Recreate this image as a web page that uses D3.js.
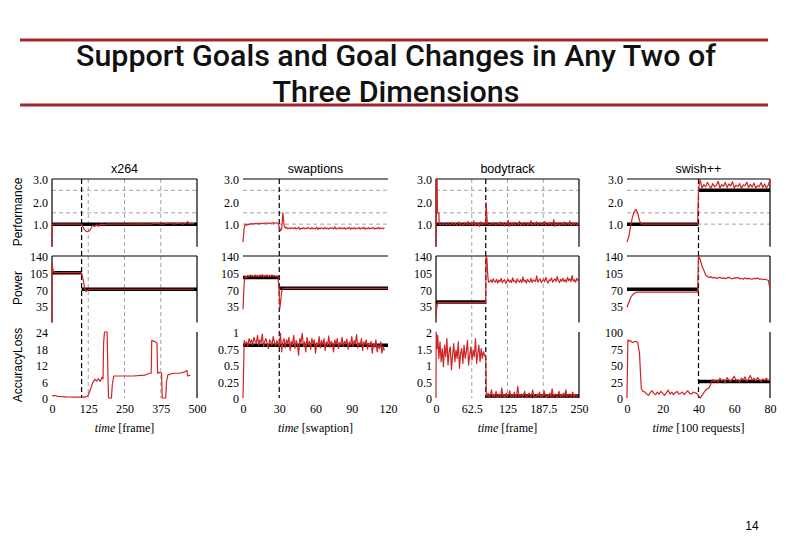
<!DOCTYPE html>
<html><head><meta charset="utf-8">
<script src="https://cdn.jsdelivr.net/npm/d3@7"></script>
<style>body{margin:0;background:#fff} svg{display:block}</style>
</head><body><svg id="c" width="792" height="540"></svg>
<script>
// ---------- text ----------
const titleLines = ["Support Goals and Goal Changes in Any Two of", "Three Dimensions"];
const pageNumber = "14";
const columnNames = ["x264", "swaptions", "bodytrack", "swish++"];
const rowNames = ["Performance", "Power", "AccuracyLoss"];
const xUnits = ["frame", "swaption", "frame", "100 requests"];

// ---------- ticks ----------
const xDomains = [[0, 500], [0, 120], [0, 250], [0, 80]];
const xTicks = [[0, 125, 250, 375, 500], [0, 30, 60, 90, 120], [0, 62.5, 125, 187.5, 250], [0, 20, 40, 60, 80]];
const xGridTicks = [[125, 250, 375], [], [62.5, 125, 187.5], []];
const changeTimes = [102, 30, 87, 40];
const perfTicks = [1, 2, 3];
const perfGrid = [1, 1.5, 2.5];
const powerTicks = [35, 70, 105, 140];
const accTicks = [[0, 6, 12, 18, 24], [0, 0.25, 0.5, 0.75, 1], [0, 0.5, 1, 1.5, 2], [0, 25, 50, 75, 100]];

// helper: pair evenly spaced sample times with typed values
function seq(t0, step, vals) { return vals.map((v, i) => [t0 + i * step, v]); }

// ---------- x264 ----------
const x264Perf = [[0,0],[0.5,1.0],[100,1.0],[104,0.95],[108,0.85],[112,0.75],[118,0.68],[124,0.67],[130,0.72],[136,0.85],[140,0.95],[145,0.9],[150,0.92],[155,0.98],[160,0.9],[164,0.97],[170,1.0],[180,0.98],[190,1.0],[220,1.0],[260,1.0],[300,1.01],[340,1.0],[360,1.03],[380,1.0],[410,1.05],[420,1.0],[440,1.04],[450,1.0],[465,1.05],[468,1.12],[472,1.02],[490,1.02]];
const x264Power = [[0,0],[0.5,125],[3,112],[6,106],[10,105],[100,105],[103,102],[108,88],[113,72],[117,65],[121,68],[130,70],[200,70],[300,70],[400,70],[490,70]];
const x264Acc = [[0,0.8],[10,0.9],[20,0.6],[50,0.4],[80,0.3],[110,0.3],[120,0.5],[125,1],[132,3],[140,5.5],[148,6.8],[155,6.2],[160,7],[166,6],[172,7.5],[176,7],[178,20],[181,24],[190,24],[192,12],[195,0],[205,0],[208,5],[213,8],[240,8],[280,8],[320,8.3],[335,9],[342,9],[344,21],[352,20.6],[362,20],[364,9],[372,9.3],[378,9],[380,0],[392,0],[395,6],[400,8.5],[420,9],[440,9],[458,9.5],[465,10],[468,8],[477,8.3]];
const x264PerfGoal = [[0,1],[500,1]];
const x264PowerGoal = [[0,105],[102,105],null,[102,70],[500,70]];
const x264AccGoal = [];

// ---------- swaptions ----------
const swaptionsPerf = [[0,0.2],[1,0.85],[2,1.0],...seq(3,1,[0.95,1.0,0.98,1.02,1.0,1.03,1.0,1.02,1.04,1.01,1.03,1.02,1.05,1.02,1.04,1.03,1.06,1.03,1.05,1.02,1.06,1.04,1.07,1.03,1.05,1.06,1.03]),[30,0.9],[31,0.7],[32,0.8],[33,1.5],[34,0.95],[35,0.82],...seq(36,1,[0.86,0.8,0.83,0.79,0.84,0.81,0.8,0.85,0.78,0.82,0.87,0.76,0.82,0.8,0.84,0.79,0.83,0.8,0.85,0.81,0.78,0.84,0.8,0.82,0.79,0.86,0.76,0.83,0.8,0.84,0.81,0.79,0.85,0.8,0.82,0.78,0.84,0.81,0.83,0.79,0.88,0.78,0.82,0.8,0.85,0.79,0.83,0.8,0.84,0.78,0.82,0.81,0.86,0.77,0.83,0.8,0.84,0.79,0.82,0.8,0.85,0.78,0.83,0.8,0.87,0.77,0.82,0.8,0.84,0.79,0.83,0.81,0.85,0.78,0.82,0.8,0.86,0.79,0.83,0.81,0.8,0.84])];
const swaptionsPower = [[0,28],[1,85],...seq(2,1,[97,95,99,96,100,97,99,96,100,97,99,96,100,97,101,96,99,97,100,96,99,97,100,97,99,96,98,97]),[30,60],[30.5,30],[31,40],[32,65],[33,71],[34,72],[120,72]];
const swaptionsAcc = seq(0,1,[0,0.87,0.82,0.85,0.78,0.9,0.84,0.88,0.8,0.92,0.86,0.83,0.95,0.8,0.88,0.84,0.97,0.78,0.86,0.9,0.82,0.75,0.88,0.85,0.8,0.93,0.84,0.79,0.87,0.82,0.78,0.98,0.7,0.85,0.9,0.76,0.88,0.83,0.92,0.72,0.86,0.8,0.95,0.75,0.87,0.82,0.65,0.9,0.84,0.98,0.78,0.85,0.7,0.92,0.8,0.86,0.74,0.9,0.82,0.88,0.68,0.84,0.79,0.93,0.76,0.87,0.81,0.9,0.72,0.85,0.8,0.94,0.77,0.86,0.83,0.7,0.88,0.81,0.9,0.75,0.84,0.8,0.92,0.78,0.86,0.83,0.89,0.74,0.85,0.8,0.93,0.78,0.87,0.82,0.96,0.76,0.84,0.8,0.9,0.72,0.85,0.81,0.88,0.74,0.83,0.79,0.86,0.68,0.82,0.77,0.88,0.7,0.8,0.75,0.85,0.68,0.78,0.72]);
const swaptionsPerfGoal = [];
const swaptionsPowerGoal = [[0,95],[30,95],null,[30,72],[120,72]];
const swaptionsAccGoal = [[0,0.8],[120,0.8]];

// ---------- bodytrack ----------
const bodytrackPerf = [[0,0],[0.5,3.0],[2,3.0],[2.5,1.5],[5,1.5],[5.5,1.0],...seq(6,2,[1.0,0.98,1.02,0.97,1.0,1.05,0.96,1.0,1.02,0.95,1.0,1.08,0.97,1.0,1.03,0.96,1.0,1.1,0.95,1.02,1.0,0.92,1.05,1.0,0.97,1.12,0.94,1.0,1.03,0.96,1.15,0.93,1.02,0.98,1.05,0.9,1.1,0.97,1.0,1.04,0.98]),[87,1.0],[87.5,1.95],[89,1.3],[90,1.0],...seq(92,2,[1.0,0.96,1.04,0.98,1.0,1.06,0.94,1.0,1.03,0.97,1.1,0.95,1.0,1.02,0.92,1.05,0.98,1.18,0.9,1.0,1.03,0.96,1.08,0.95,1.0,1.02,0.97,1.12,0.93,1.0,1.04,0.96,1.0,1.07,0.95,1.02,0.98,1.15,0.92,1.0,1.03,0.97,1.1,0.94,1.0,1.05,0.96,1.02,0.98,1.12,0.93,1.0,1.04,0.97,1.08,0.95,1.0,1.2,0.9,1.02,0.98,1.06,0.94,1.0,1.03,0.96,1.1,0.95,1.0,1.04,0.97,1.14,0.92,1.0,1.03,0.98,1.06,0.95,1.02,1.0])];
const bodytrackPower = [[0,15],[1,28],[2,36],[3,40],[5,42],[87,42],[87.5,140],[89,135],[90,110],[91,92],[92,85],...seq(94,2,[86,90,84,92,87,85,91,83,89,86,93,84,88,90,82,87,91,85,89,84,94,86,88,83,92,87,85,90,84,96,86,89,83,91,87,85,93,84,90,88,86,98,85,89,92,84,88,91,86,95,87,83,90,88,94,85,89,92,86,97,88,84,91,87,93,86,90,85,95,88,92,86,99,87,90,85,93,88,91])];
const bodytrackAcc = [[0,0],[0.3,2.0],[2,1.5],...seq(3,2,[1.9,1.2,1.7,1.1,1.5,0.95,1.6,1.25,1.8,1.0,1.4,1.55,0.85,1.3,1.65,1.1,1.45,1.2,1.7,0.9,1.35,1.5,1.05,1.6,1.2,1.4,1.75,1.0,1.3,1.55,1.15,1.45,1.25,1.8,1.05,1.35,1.6,1.1,1.5,1.2,1.4,1.3]),[87,1.2],[88,0.1],...seq(89,2,[0.05,0.15,0.02,0.08,0.25,0.03,0.1,0.05,0.2,0.02,0.06,0.12,0.03,0.3,0.05,0.08,0.02,0.15,0.04,0.1,0.22,0.03,0.07,0.05,0.18,0.02,0.09,0.35,0.04,0.06,0.12,0.03,0.08,0.2,0.05,0.02,0.1,0.15,0.03,0.07,0.25,0.04,0.06,0.02,0.12,0.05,0.18,0.03,0.09,0.04,0.22,0.06,0.02,0.1,0.05,0.15,0.03,0.28,0.04,0.08,0.12,0.02,0.06,0.2,0.04,0.1,0.03,0.15,0.05,0.25,0.03,0.08,0.12,0.04,0.06,0.18,0.03,0.1,0.05,0.08,0.04])];
const bodytrackPerfGoal = [[0,1],[250,1]];
const bodytrackPowerGoal = [[0,43],[87,43]];
const bodytrackAccGoal = [[87,0.06],[250,0.06]];

// ---------- swish++ ----------
const swishPerf = [[0,0.2],[1,0.45],[2,0.9],[3,1.3],[4,1.55],[5,1.65],[6,1.5],[7,1.15],[8,1.0],[39.5,1.0],[40,2.5],[40.5,2.8],...seq(41,1,[2.95,2.6,2.75,2.65,2.85,2.7,2.6,2.8,2.65,2.72,2.9,2.6,2.75,2.68,2.85,2.62,2.78,2.7,2.88,2.6,2.73,2.66,2.8,2.58,2.74,2.7,2.86,2.62,2.76,2.64,2.82,2.6,2.7,2.66,2.84,2.62,2.78,2.6,2.72,3.0])];
const swishPower = [[0,32],[1,42],[2,52],[3,58],[4,61],[5,63],[6,64],[8,64],[39.5,64],[40,140],[41,132],[42,118],[43,110],[44,100],[45,97],...seq(46,1,[95,96,94,95,93,94,95,93,94,92,94,95,93,92,94,93,95,92,93,91,94,92,93,92,91,93,92,94,91,92,90,91,90,89]),[80,72]];
const swishAcc = [[0,0],[0.5,88],[1,86],[2,87],[3,84],[4,85],[5,86],[6,84],[7,68],[7.5,40],[8,14],[9,10],...seq(10,1,[9,6,4,8,11,7,5,9,6,10,7,4,8,12,6,9,5,8,10,6,7,9,5,8,11,7,6,9,8,7]),[40,3],[41,0],[42,4],[43,8],[44,12],[45,14],[46,16],[47,22],[48,28],[49,25],...seq(50,1,[27,24,30,26,28,23,31,27,25,29,33,26,28,24,30,27,32,25,29,34,27,30,26,31,28,25,29,27,30,26,28])];
const swishPerfGoal = [[0,1],[40,1],null,[40,2.5],[80,2.5]];
const swishPowerGoal = [[0,70],[40,70]];
const swishAccGoal = [[40,25],[80,25]];

// ---------- assemble ----------
const seriesByColumn = [
  [x264Perf, x264Power, x264Acc],
  [swaptionsPerf, swaptionsPower, swaptionsAcc],
  [bodytrackPerf, bodytrackPower, bodytrackAcc],
  [swishPerf, swishPower, swishAcc]
];
const goalsByColumn = [
  [x264PerfGoal, x264PowerGoal, x264AccGoal],
  [swaptionsPerfGoal, swaptionsPowerGoal, swaptionsAccGoal],
  [bodytrackPerfGoal, bodytrackPowerGoal, bodytrackAccGoal],
  [swishPerfGoal, swishPowerGoal, swishAccGoal]
];
const bordersByColumn = [["tlr","tlr","r"], ["t","t",""], ["tlr","tlr","r"], ["tr","tr","r"]];

// layout
const colX = [[52,197],[243,388],[436,579],[627,770]];
const rowY = [[246.7,179],[322.5,256],[398,332]];
const RED = "#d02323";
const serif = "'Liberation Serif','DejaVu Serif',serif";
const sans = "'Liberation Sans','DejaVu Sans',sans-serif";

const svg = d3.select("#c");
svg.append("rect").attr("width",792).attr("height",540).attr("fill","#fff");

// title
const titleColor = "#a3262a";
svg.append("line").attr("x1",20).attr("x2",768).attr("y1",40).attr("y2",40).attr("stroke",titleColor).attr("stroke-width",3);
svg.append("line").attr("x1",20).attr("x2",768).attr("y1",105).attr("y2",105).attr("stroke",titleColor).attr("stroke-width",3);
const titleFont = "Roboto,'Liberation Sans',sans-serif";
svg.append("text").attr("x",396).attr("y",66).attr("text-anchor","middle").attr("font-family",titleFont)
  .attr("font-size",30).attr("font-weight",500).attr("fill","#111")
  .attr("textLength",640).attr("lengthAdjust","spacingAndGlyphs").text(titleLines[0]);
svg.append("text").attr("x",396).attr("y",102).attr("text-anchor","middle").attr("font-family",titleFont)
  .attr("font-size",30).attr("font-weight",500).attr("fill","#111")
  .attr("textLength",247).attr("lengthAdjust","spacingAndGlyphs").text(titleLines[1]);

svg.append("text").attr("x",752).attr("y",530).attr("text-anchor","middle").attr("font-family",sans).attr("font-size",12).text(pageNumber);

// row titles
const rowTitleY = [212, 288, 365];
rowNames.forEach((n,i)=>{
  svg.append("text").attr("transform",`translate(18,${rowTitleY[i]}) rotate(-90)`)
    .attr("text-anchor","middle").attr("dominant-baseline","central")
    .attr("font-family",sans).attr("font-size",12).text(n);
});

const defs = svg.append("defs");

columnNames.forEach((name, c) => {
  const x = d3.scaleLinear().domain(xDomains[c]).range(colX[c]);
  const g = svg.append("g");
  const cx = (colX[c][0]+colX[c][1])/2;

  g.append("text").attr("x",cx).attr("y",173).attr("text-anchor","middle")
    .attr("font-family",sans).attr("font-size",12.5).text(name);

  const yScales = [
    d3.scaleLinear().domain([0,3]).range(rowY[0]),
    d3.scaleLinear().domain([0,140]).range(rowY[1]),
    d3.scaleLinear().domain([0, accTicks[c][accTicks[c].length-1]]).range(rowY[2])
  ];
  const yTickSets = [perfTicks, powerTicks, accTicks[c]];
  const yFormats = [d => d.toFixed(1), d => String(d), d => String(d)];

  // vertical gray dashed grid (spanning all rows)
  xGridTicks[c].forEach(t => {
    g.append("line").attr("x1",x(t)).attr("x2",x(t)).attr("y1",rowY[0][1]).attr("y2",rowY[2][0])
      .attr("stroke","#9a9a9a").attr("stroke-width",0.9).attr("stroke-dasharray","4,3");
  });

  // horizontal gray dashed in performance row
  perfGrid.forEach(v => {
    g.append("line").attr("x1",colX[c][0]).attr("x2",colX[c][1]).attr("y1",yScales[0](v)).attr("y2",yScales[0](v))
      .attr("stroke","#9a9a9a").attr("stroke-width",0.9).attr("stroke-dasharray","4,3");
  });

  // change line
  const tc = changeTimes[c];
  g.append("line").attr("x1",x(tc)).attr("x2",x(tc)).attr("y1",rowY[0][1]).attr("y2",rowY[2][0])
    .attr("stroke","#000").attr("stroke-width",1.2).attr("stroke-dasharray","5,3");

  rowNames.forEach((rn, r) => {
    const y = yScales[r];
    const [yb, yt] = rowY[r];
    const [xl, xr] = colX[c];
    const b = bordersByColumn[c][r];
    if (b.includes("t")) g.append("line").attr("x1",xl).attr("x2",xr).attr("y1",yt).attr("y2",yt).attr("stroke","#000").attr("stroke-width",1.2);
    if (b.includes("l")) g.append("line").attr("x1",xl).attr("x2",xl).attr("y1",yt).attr("y2",yb).attr("stroke","#000").attr("stroke-width",1.2);
    if (b.includes("r")) g.append("line").attr("x1",xr).attr("x2",xr).attr("y1",yt).attr("y2",yb).attr("stroke","#000").attr("stroke-width",1.2);

    // y axis
    const ax = g.append("g").attr("transform",`translate(${xl},0)`)
      .call(d3.axisLeft(y).tickValues(yTickSets[r]).tickSize(0).tickPadding(4).tickFormat(yFormats[r]));
    ax.select(".domain").remove();
    ax.selectAll("text").attr("font-family",serif).attr("font-size",12).attr("fill","#000").attr("dy","0.4em");

    const clipId = `clip-${c}-${r}`;
    defs.append("clipPath").attr("id",clipId).append("rect")
      .attr("x",xl-1).attr("y",yt-2).attr("width",xr-xl+2).attr("height",yb-yt+3);

    const line = d3.line().defined(d => d !== null).x(d => x(d[0])).y(d => y(d[1]));
    const goal = goalsByColumn[c][r];
    if (goal.length) {
      g.append("path").attr("d", line(goal)).attr("fill","none").attr("stroke","#000").attr("stroke-width",3.5);
    }
    g.append("path").attr("clip-path",`url(#${clipId})`).attr("d", line(seriesByColumn[c][r]))
      .attr("fill","none").attr("stroke",RED).attr("stroke-width",1.2).attr("stroke-linejoin","round");
  });

  // x axis
  const xa = g.append("g").attr("transform",`translate(0,${rowY[2][0]})`)
    .call(d3.axisBottom(x).tickValues(xTicks[c]).tickSize(0).tickPadding(6).tickFormat(d => String(d)));
  xa.select(".domain").remove();
  xa.selectAll("text").attr("font-family",serif).attr("font-size",12).attr("fill","#000");

  const xl = g.append("text").attr("x",cx).attr("y",432).attr("text-anchor","middle")
    .attr("font-family",serif).attr("font-size",12);
  xl.append("tspan").attr("font-style","italic").text("time");
  xl.append("tspan").text(` [${xUnits[c]}]`);
});
</script></body></html>
